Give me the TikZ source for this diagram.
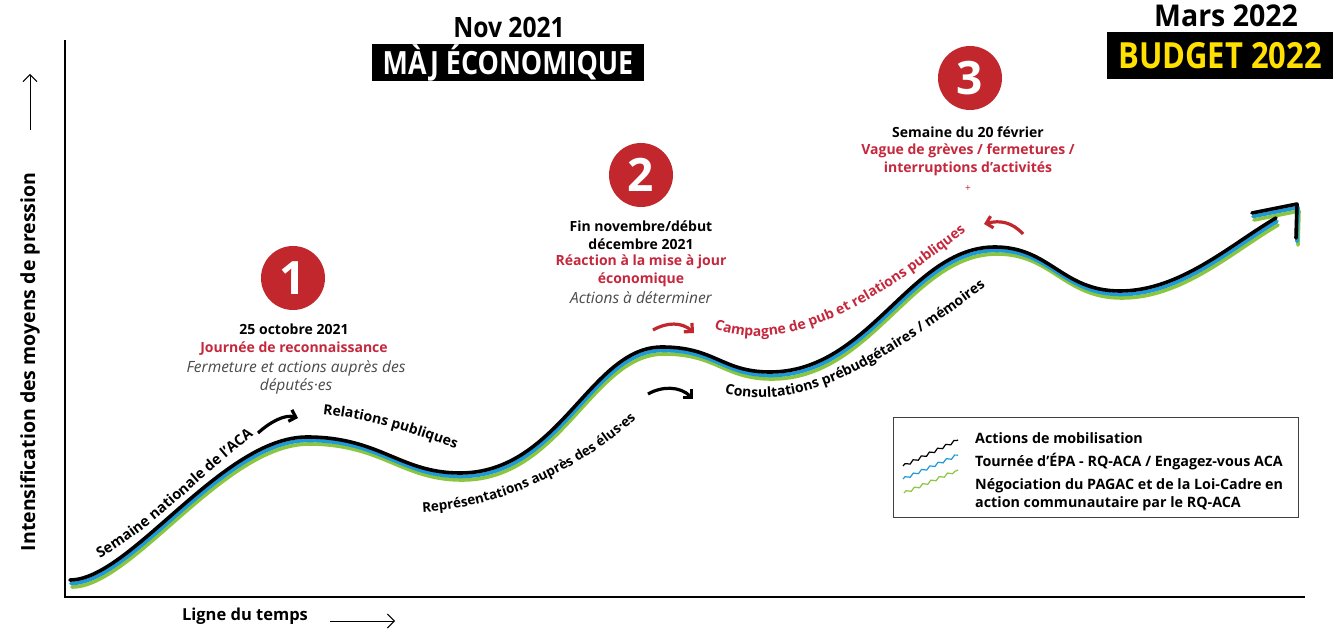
\documentclass[tikz,border=0pt]{standalone}
\usepackage{fontspec}
\usepackage{graphicx}
\setmainfont{Open Sans}
\usetikzlibrary{arrows.meta,decorations.text,decorations.pathmorphing}
\definecolor{rouge}{HTML}{C1272D}
\definecolor{rougetxt}{HTML}{C5283D}
\definecolor{bleu}{HTML}{1E9AD6}
\definecolor{vert}{HTML}{8CC63F}
\definecolor{jaune}{HTML}{FFE000}
\definecolor{gristxt}{HTML}{4A4A4A}
\newcommand{\fsz}[2]{\fontsize{#1}{#2}\selectfont}
\newcommand{\lbl}{\bfseries\fsz{14}{16}}
\newcommand{\lblb}{\bfseries\fsz{14.5}{16}}
\newcommand{\lblc}{\bfseries\fsz{13.5}{16}}
\newcommand{\vague}{(70,580) .. controls (130,580) and (222,437) .. (307,437) .. controls (380,437) and (400,473) .. (460,473) .. controls (560,473) and (590,347) .. (662,347) .. controls (715,347) and (722,372) .. (770,372) .. controls (870,372) and (910,247) .. (995,247) .. controls (1050,247) and (1062,291) .. (1120,291) .. controls (1180,291) and (1230,245) .. (1276,218)}
\newcommand{\pointe}{(1252,213) -- (1297,204) -- (1296,238)}
\tikzset{
  couche/.style={line width=3.6pt, line cap=round, line join=round},
  axe/.style={line width=2.4pt},
  fleche/.style={line width=1pt, -{Straight Barb[length=7pt,width=14pt]}},
  courbe/.style={line width=3.2pt, -{Straight Barb[length=6pt,width=12pt]}},
  pastille/.style={circle, fill=rouge, minimum size=64pt, inner sep=0pt, text=white, font=\bfseries\fsz{46}{46}},
  dat/.style={font=\bfseries\fsz{14}{16}, inner sep=0pt},
  rtxt/.style={font=\bfseries\fsz{14}{16}, text=rougetxt, inner sep=0pt},
  itxt/.style={font=\itshape\fsz{15.5}{17}, text=gristxt, inner sep=0pt},
  legtxt/.style={font=\bfseries\fsz{14.3}{16}, anchor=west, inner sep=0pt},
  serpent/.style={decorate, decoration={snake, segment length=9pt, amplitude=1.3pt}, line width=1.2pt}
}
\begin{document}
\begin{tikzpicture}[x=1pt,y=-1pt]
\useasboundingbox (0,0) rectangle (1334,631);
\fill[white] (0,0) rectangle (1334,631);

% axes
\coordinate (o) at (65,597);
\coordinate (ytop) at (65,40);
\coordinate (xend) at (1305,597);
\draw[axe] (ytop) -- (o) -- (xend);

\node[font=\bfseries\fsz{19.5}{21}, rotate=90, inner sep=0pt] (ylab) at (30,362) {Intensification des moyens de pression};
\coordinate (ya1) at (30,130);
\coordinate (ya2) at (30,74);
\draw[fleche] (ya1) -- (ya2);

\node[font=\bfseries\fsz{16.5}{18}, inner sep=0pt] (xlab) at (245,616) {Ligne du temps};
\coordinate (xa1) at (330,621);
\coordinate (xa2) at (395,621);
\draw[fleche] (xa1) -- (xa2);

% headings
\node[font=\bfseries\fsz{28}{30}, inner sep=0pt] (nov) at (509,27) {\scalebox{0.88}[1]{Nov 2021}};
\node[fill=black, text=white, font=\bfseries\fsz{32}{32}, minimum width=272pt, minimum height=37pt, inner sep=0pt] (maj) at (508,63) {\scalebox{0.84}[1]{MÀJ ÉCONOMIQUE}};
\node[font=\bfseries\fsz{30}{32}, inner sep=0pt] (mars) at (1226,16) {\scalebox{0.95}[1]{Mars 2022}};
\node[fill=black, text=jaune, font=\bfseries\fsz{36}{36}, minimum width=226pt, minimum height=47pt, inner sep=0pt] (budget) at (1220,56) {\scalebox{0.86}[1]{BUDGET 2022}};

% circles
\node[pastille] (c1) at (293,278) {1};
\node[pastille] (c2) at (641,175) {2};
\node[pastille] (c3) at (970,78) {3};

% text block 1
\node[dat] (t1a) at (294,329) {25 octobre 2021};
\node[rtxt] (t1b) at (294,349) {Journée de reconnaissance};
\node[itxt] (t1c) at (296,368) {Fermeture et actions auprès des};
\node[itxt] (t1d) at (296,386) {députés·es};

% text block 2
\node[dat] (t2a) at (641,226) {Fin novembre/début};
\node[dat] (t2b) at (641,244) {décembre 2021};
\node[rtxt] (t2c) at (641,262) {Réaction à la mise à jour};
\node[rtxt] (t2d) at (641,280) {économique};
\node[itxt] (t2e) at (641,298) {Actions à déterminer};

% text block 3
\node[dat] (t3a) at (968,132) {Semaine du 20 février};
\node[rtxt] (t3b) at (968,151) {Vague de grèves / fermetures /};
\node[rtxt] (t3c) at (968,169) {interruptions d’activités};
\node[font=\fsz{10}{10}, text=rougetxt, inner sep=0pt] (t3d) at (968,189) {+};

% wave
\begin{scope}[shift={(2,7)}]
  \draw[couche, vert] \vague;
  \draw[couche, vert] \pointe;
\end{scope}
\begin{scope}[shift={(1,3.5)}]
  \draw[couche, bleu] \vague;
  \draw[couche, bleu] \pointe;
\end{scope}
\draw[couche, black] \vague;
\draw[couche, black] \pointe;

% curved labels
\path[decorate, decoration={text along path, text={|\lblb|Semaine nationale de l'ACA}, text align=center}]
  (86,565) .. controls (150,535) and (200,475) .. (266,426);
\path[decorate, decoration={text along path, text={|\lbl|Relations publiques}, text align=center}]
  (310,413) .. controls (370,417) and (420,436) .. (468,453);
\path[decorate, decoration={text along path, text={|\lblc|Représentations auprès des élus·es}, text align=center}]
  (398,512) .. controls (480,516) and (578,478) .. (654,402);
\path[decorate, decoration={text along path, text={|\lbl|Consultations prébudgétaires / mémoires}, text align=center}]
  (712,390) .. controls (800,418) and (880,365) .. (996,279);
\path[decorate, decoration={text along path, text={|\lbl\color{rougetxt}|Campagne de pub et relations publiques}, text align=center}]
  (702,323) .. controls (765,356) and (845,330) .. (976,223);

% curved arrows
\coordinate (a1s) at (258,433);
\coordinate (a1e) at (298,418);
\draw[courbe, black] (a1s) .. controls (270,422) and (285,414) .. (a1e);
\coordinate (a2s) at (648,394);
\coordinate (a2e) at (693,399);
\draw[courbe, black] (a2s) .. controls (662,386) and (680,386) .. (a2e);
\coordinate (a3s) at (653,330);
\coordinate (a3e) at (694,333);
\draw[courbe, rouge] (a3s) .. controls (667,322) and (682,322) .. (a3e);
\coordinate (a4s) at (1023,234);
\coordinate (a4e) at (984,224);
\draw[courbe, rouge] (a4s) .. controls (1012,222) and (1000,220) .. (a4e);

% legend
\node[draw=black!75, line width=1.2pt, minimum width=405pt, minimum height=100pt, inner sep=0pt, anchor=north west] (leg) at (893,417) {};
\coordinate (s1a) at (903,466);
\coordinate (s1b) at (958,440);
\coordinate (s2a) at (903,479);
\coordinate (s2b) at (958,455);
\coordinate (s3a) at (904,493);
\coordinate (s3b) at (958,470);
\draw[serpent, black] (s1a) -- (s1b);
\draw[serpent, bleu] (s2a) -- (s2b);
\draw[serpent, vert] (s3a) -- (s3b);
\node[legtxt] (l1) at (975,438) {Actions de mobilisation};
\node[legtxt] (l2) at (975,462) {Tournée d’ÉPA - RQ-ACA / Engagez-vous ACA};
\node[legtxt] (l3) at (975,486) {Négociation du PAGAC et de la Loi-Cadre en};
\node[legtxt] (l4) at (975,504) {action communautaire par le RQ-ACA};
\end{tikzpicture}
\end{document}
